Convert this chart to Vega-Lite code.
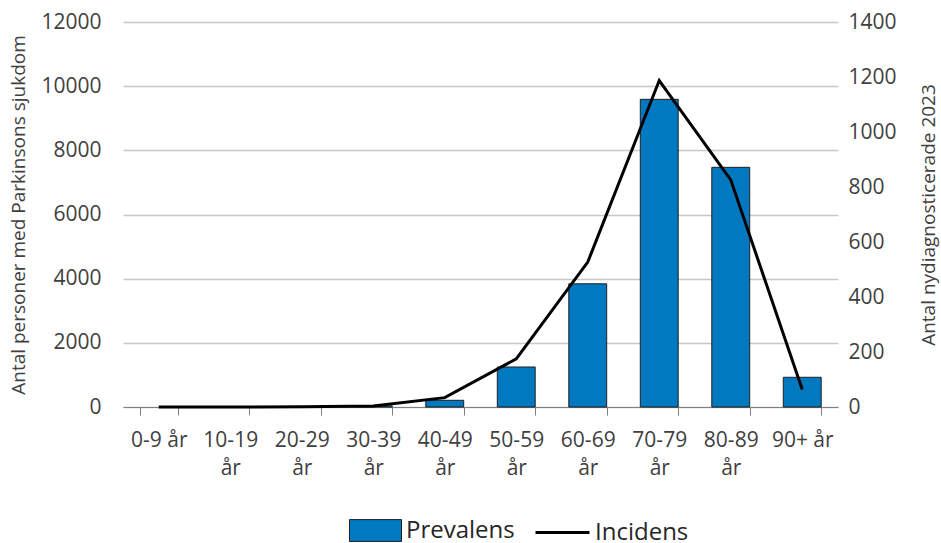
{
  "$schema": "https://vega.github.io/schema/vega-lite/v6.json",
  "width": 715,
  "height": 385,
  "autosize": {"type": "none"},
  "padding": {"left": 123, "top": 22, "right": 103, "bottom": 136},
  "config": {
    "font": "Open Sans",
    "view": {"stroke": null},
    "axis": {"labelColor": "#404040", "titleColor": "#404040", "titleFontWeight": "normal", "labelFont": "Open Sans", "titleFont": "Open Sans"},
    "legend": {"labelFont": "Open Sans", "labelColor": "#262626"}
  },
  "data": {
    "values": [
      {"age": "0-9 år", "prev": null, "inc": 0},
      {"age": "10-19 år", "prev": 1, "inc": 0},
      {"age": "20-29 år", "prev": 5, "inc": 1},
      {"age": "30-39 år", "prev": 35, "inc": 4},
      {"age": "40-49 år", "prev": 209, "inc": 34},
      {"age": "50-59 år", "prev": 1247, "inc": 175},
      {"age": "60-69 år", "prev": 3840, "inc": 527},
      {"age": "70-79 år", "prev": 9590, "inc": 1187},
      {"age": "80-89 år", "prev": 7470, "inc": 826},
      {"age": "90+ år", "prev": 926, "inc": 64}
    ]
  },
  "encoding": {
    "x": {
      "field": "age",
      "type": "nominal",
      "sort": null,
      "scale": {
        "domain": ["0-9 år", "10-19 år", "20-29 år", "30-39 år", "40-49 år", "50-59 år", "60-69 år", "70-79 år", "80-89 år", "90+ år"],
        "paddingInner": 0.47,
        "paddingOuter": 0.235
      },
      "axis": {
        "title": null,
        "labelAngle": 0,
        "labelFontSize": 21,
        "labelLineHeight": 28,
        "labelPadding": 14,
        "domainColor": "#808080",
        "tickColor": "#808080",
        "tickSize": 8,
        "tickBand": "extent",
        "labelExpr": "datum.label == '0-9 år' || datum.label == '90+ år' ? datum.label : split(datum.label, ' ')"
      }
    }
  },
  "layer": [
    {
      "mark": {"type": "bar", "stroke": "#1f1f1f", "strokeWidth": 1},
      "encoding": {
        "y": {
          "field": "prev",
          "type": "quantitative",
          "scale": {"domain": [0, 12000]},
          "axis": {
            "title": "Antal personer med Parkinsons sjukdom",
            "orient": "left",
            "values": [0, 2000, 4000, 6000, 8000, 10000, 12000],
            "format": "d",
            "domain": false,
            "ticks": false,
            "grid": true,
            "gridColor": "#c8c8c8",
            "gridWidth": 1.3,
            "labelPadding": 22,
            "labelFontSize": 21,
            "titleFontSize": 19,
            "titlePadding": 12
          }
        },
        "fill": {
          "datum": "Prevalens",
          "type": "nominal",
          "scale": {"domain": ["Prevalens"], "range": ["#0079C1"]},
          "legend": {
            "title": null,
            "orient": "none",
            "direction": "horizontal",
            "legendX": 226,
            "legendY": 482,
            "labelFontSize": 24,
            "labelOffset": 4,
            "symbolType": "M-1,-0.42H1V0.42H-1Z",
            "symbolSize": 2704,
            "symbolOpacity": 1,
            "symbolFillColor": "#0079C1",
            "symbolStrokeColor": "#1f1f1f",
            "symbolStrokeWidth": 1
          }
        }
      }
    },
    {
      "mark": {"type": "line", "strokeWidth": 3},
      "encoding": {
        "y": {
          "field": "inc",
          "type": "quantitative",
          "scale": {"domain": [0, 1400]},
          "axis": {
            "title": "Antal nydiagnosticerade 2023",
            "orient": "right",
            "values": [0, 200, 400, 600, 800, 1000, 1200, 1400],
            "format": "d",
            "domain": false,
            "ticks": false,
            "grid": false,
            "labelPadding": 10,
            "labelFontSize": 21,
            "titleFontSize": 19,
            "titleAngle": 270,
            "titlePadding": 42
          }
        },
        "stroke": {
          "datum": "Incidens",
          "type": "nominal",
          "scale": {"domain": ["Incidens"], "range": ["#000000"]},
          "legend": {
            "title": null,
            "orient": "none",
            "direction": "horizontal",
            "legendX": 411,
            "legendY": 482,
            "labelFontSize": 24,
            "labelOffset": 4,
            "symbolType": "stroke",
            "symbolSize": 2916,
            "symbolStrokeWidth": 3,
            "symbolOpacity": 1
          }
        }
      }
    }
  ],
  "resolve": {"scale": {"y": "independent"}}
}
